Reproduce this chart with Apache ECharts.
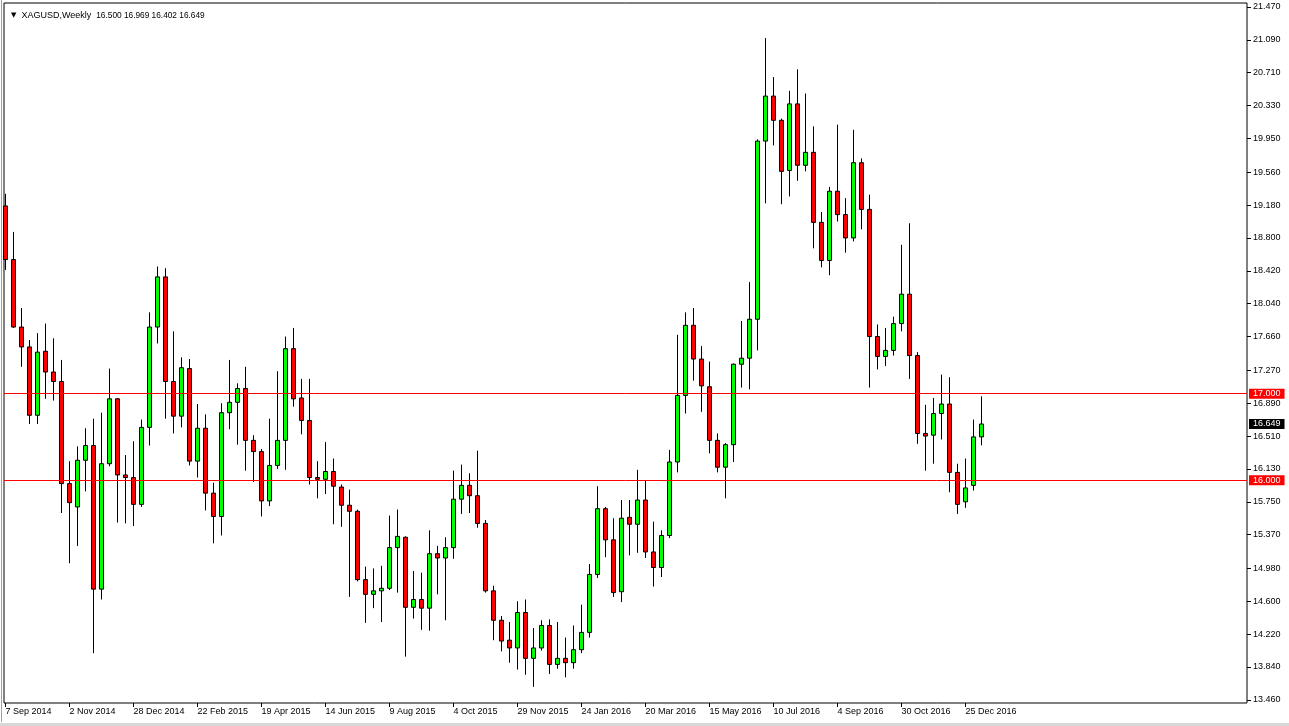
<!DOCTYPE html>
<html>
<head>
<meta charset="utf-8">
<script src="https://cdn.jsdelivr.net/npm/echarts@6/dist/echarts.min.js"></script>
<style>
html,body{margin:0;padding:0;background:#fff;}
#chart{width:1289px;height:726px;}
</style>
</head>
<body>
<div id="chart"></div>
<script>
// Weekly XAGUSD, one candle per week starting 7 Sep 2014
const tickDates = ['7 Sep 2014','2 Nov 2014','28 Dec 2014','22 Feb 2015','19 Apr 2015','14 Jun 2015','9 Aug 2015','4 Oct 2015','29 Nov 2015','24 Jan 2016','20 Mar 2016','15 May 2016','10 Jul 2016','4 Sep 2016','30 Oct 2016','25 Dec 2016'];
const weeksPerTick = 8;

const opens = [19.17,18.55,17.77,17.54,16.75,17.49,17.25,17.14,15.96,15.69,
16.23,16.40,14.74,16.19,16.94,16.06,16.03,15.72,16.61,17.77,
18.35,17.14,16.74,17.29,16.22,16.60,15.85,15.58,16.78,16.90,
17.06,16.46,16.33,15.76,16.17,16.46,17.52,16.95,16.69,16.03,
16.01,16.10,15.92,15.71,15.64,14.85,14.68,14.72,14.75,15.22,
15.34,14.53,14.62,14.52,15.15,15.10,15.22,15.78,15.94,15.82,
15.50,14.72,14.38,14.15,14.06,14.47,13.94,14.06,14.32,13.87,
13.94,13.89,14.04,14.24,14.91,15.67,15.31,14.71,15.57,15.49,
15.77,15.17,14.99,15.36,16.21,16.98,17.79,17.40,17.08,16.46,
16.15,16.41,17.34,17.41,17.86,19.92,20.44,20.16,19.58,20.35,
19.64,19.79,18.98,18.54,19.34,19.07,18.80,19.67,19.13,17.66,
17.43,17.50,17.81,18.15,17.44,16.54,16.52,16.77,16.88,16.09,
15.75,15.94,16.500];
const highs = [19.31,18.87,17.99,17.62,17.70,17.81,17.64,17.39,16.22,16.39,
16.60,16.71,16.78,17.29,16.95,16.29,16.45,16.70,17.94,18.47,
18.45,17.72,17.42,17.40,16.88,16.76,15.97,16.89,17.39,17.12,
17.31,16.52,16.36,16.71,17.26,17.66,17.76,17.17,17.17,16.22,
16.44,16.25,15.95,15.89,15.66,15.00,14.98,15.01,15.59,15.66,
15.35,14.95,14.93,15.42,15.24,15.34,16.11,16.18,16.08,16.34,
15.54,14.78,14.43,14.36,14.60,14.62,14.29,14.38,14.39,14.36,
14.18,14.32,14.56,15.03,15.93,15.69,15.56,15.77,15.77,16.12,
15.99,15.52,15.42,16.35,17.68,17.94,17.99,17.55,17.37,16.54,
16.43,17.35,17.84,18.29,19.94,21.11,20.66,20.18,20.50,20.75,
20.47,20.09,19.10,19.39,20.11,19.26,20.05,19.72,19.30,17.80,
17.76,17.89,18.72,18.97,17.48,16.87,16.95,17.22,17.19,16.19,
16.25,16.70,16.969];
const lows = [18.43,17.76,17.31,16.65,16.65,16.94,16.92,15.62,15.04,15.24,
15.87,14.00,14.62,16.16,15.51,15.50,15.47,15.69,16.40,17.58,
16.71,16.54,16.61,16.17,16.03,15.65,15.27,15.36,16.59,16.41,
16.11,15.98,15.58,15.70,16.13,16.12,16.85,16.53,15.95,15.79,
15.84,15.49,15.46,14.65,14.83,14.35,14.52,14.36,14.73,14.70,
13.96,14.40,14.27,14.26,14.68,14.38,15.09,15.61,15.62,15.45,
14.70,14.15,14.02,13.89,13.81,13.75,13.61,14.03,13.76,13.82,
13.72,13.82,14.00,14.18,14.87,15.11,14.65,14.59,15.13,15.16,
15.10,14.77,14.88,15.33,16.09,16.77,17.15,16.79,16.31,16.09,
15.79,16.21,17.07,17.05,17.50,19.20,19.87,19.19,19.28,19.46,
19.57,18.68,18.46,18.37,18.99,18.63,18.76,18.90,17.07,17.28,
17.32,17.44,17.72,17.17,16.42,16.11,16.19,16.47,15.86,15.61,
15.68,15.88,16.402];
const closes = [18.55,17.77,17.54,16.75,17.48,17.25,17.14,15.96,15.74,16.23,
16.40,14.74,16.19,16.94,16.06,16.03,15.72,16.61,17.77,18.35,
17.14,16.74,17.30,16.22,16.60,15.85,15.58,16.78,16.90,17.06,
16.46,16.33,15.76,16.17,16.46,17.52,16.94,16.69,16.03,16.01,
16.10,15.93,15.71,15.64,14.85,14.68,14.72,14.75,15.22,15.35,
14.53,14.62,14.52,15.15,15.10,15.22,15.78,15.94,15.82,15.50,
14.72,14.38,14.14,14.06,14.47,13.94,14.06,14.32,13.87,13.94,
13.89,14.04,14.24,14.91,15.67,15.31,14.70,15.56,15.49,15.77,
15.17,14.99,15.36,16.21,16.98,17.79,17.40,17.09,16.46,16.15,
16.41,17.34,17.41,17.86,19.92,20.44,20.16,19.57,20.35,19.64,
19.79,18.98,18.54,19.34,19.07,18.80,19.67,19.13,17.66,17.43,
17.50,17.81,18.15,17.44,16.54,16.51,16.77,16.88,16.09,15.72,
15.91,16.50,16.649];

const priceTicks = [21.470,21.090,20.710,20.330,19.950,19.560,19.180,18.800,18.420,18.040,17.660,17.270,16.890,16.510,16.130,15.750,15.370,14.980,14.600,14.220,13.840,13.460];
const levelLines = [17.000, 16.000];
const lastPrice = 16.649;
const symbolTitle = 'XAGUSD,Weekly';

const candleData = opens.map((o, i) => [i, o, closes[i], lows[i], highs[i]]);
const xTicks = tickDates.map((d, i) => i * weeksPerTick);
const FONT = 'Liberation Sans';
const last = opens.length - 1;

const chart = echarts.init(document.getElementById('chart'), null, {renderer: 'canvas'});
const markData = levelLines.map(v => ({
  yAxis: v,
  lineStyle: {color: '#ff0000', width: 1, type: 'solid'},
  label: {show: true, position: 'end', distance: 2, formatter: v.toFixed(3),
    color: '#ffffff', backgroundColor: '#ff0000', padding: [1, 4, 0, 4],
    fontSize: 9, fontFamily: FONT, lineHeight: 9}
}));
markData.push({
  yAxis: lastPrice,
  lineStyle: {color: 'rgba(0,0,0,0)', width: 0},
  label: {show: true, position: 'end', distance: 2, formatter: lastPrice.toFixed(3),
    color: '#ffffff', backgroundColor: '#000000', padding: [1, 4, 0, 4],
    fontSize: 9, fontFamily: FONT, lineHeight: 9}
});

chart.setOption({
  animation: false,
  backgroundColor: '#ffffff',
  title: {
    text: '{t|▼}  ' + symbolTitle + '  {n|' + [opens[last], highs[last], lows[last], closes[last]].map(v => v.toFixed(3)).join(' ') + '}',
    left: 6, top: 6,
    textStyle: {fontSize: 9, fontWeight: 'normal', fontFamily: FONT, color: '#000',
      rich: {
        t: {fontSize: 7, color: '#000', fontFamily: 'DejaVu Sans'},
        n: {fontSize: 8.3, color: '#000', fontFamily: FONT}
      }}
  },
  graphic: [
    {type: 'line', silent: true, shape: {x1: 1.5, y1: 0, x2: 1.5, y2: 722}, style: {stroke: '#a0a0a0', lineWidth: 1}},
    {type: 'rect', silent: true, shape: {x: 0, y: 723, width: 1289, height: 3}, style: {fill: '#d8d8d8'}}
  ],
  grid: {left: 4, top: 3, width: 1243, height: 700, show: true, borderColor: '#000', borderWidth: 1, backgroundColor: '#fff'},
  xAxis: {
    type: 'value', min: -0.1875, max: 155.1875,
    splitLine: {show: false}, axisLine: {show: false, onZero: false},
    axisTick: {show: true, customValues: xTicks, length: 4, lineStyle: {color: '#000'}},
    axisLabel: {customValues: xTicks, formatter: v => tickDates[Math.round(v / weeksPerTick)],
      align: 'left', margin: 4, fontSize: 9, fontFamily: FONT, color: '#000'}
  },
  yAxis: {
    type: 'value', position: 'right', min: 13.4237, max: 21.5162, scale: true,
    splitLine: {show: false}, axisLine: {show: false, onZero: false},
    axisTick: {show: true, customValues: priceTicks, length: 4, lineStyle: {color: '#000'}},
    axisLabel: {customValues: priceTicks, formatter: v => v.toFixed(3), margin: 6,
      fontSize: 9, fontFamily: FONT, color: '#000'}
  },
  series: [{
    type: 'candlestick',
    data: candleData,
    barWidth: 4,
    itemStyle: {color: '#00ff00', color0: '#ff0000', borderColor: '#000', borderColor0: '#000', borderColorDoji: '#000', borderWidth: 1},
    markLine: {silent: true, symbol: ['none', 'none'], animation: false, data: markData}
  }]
});
</script>
</body>
</html>
